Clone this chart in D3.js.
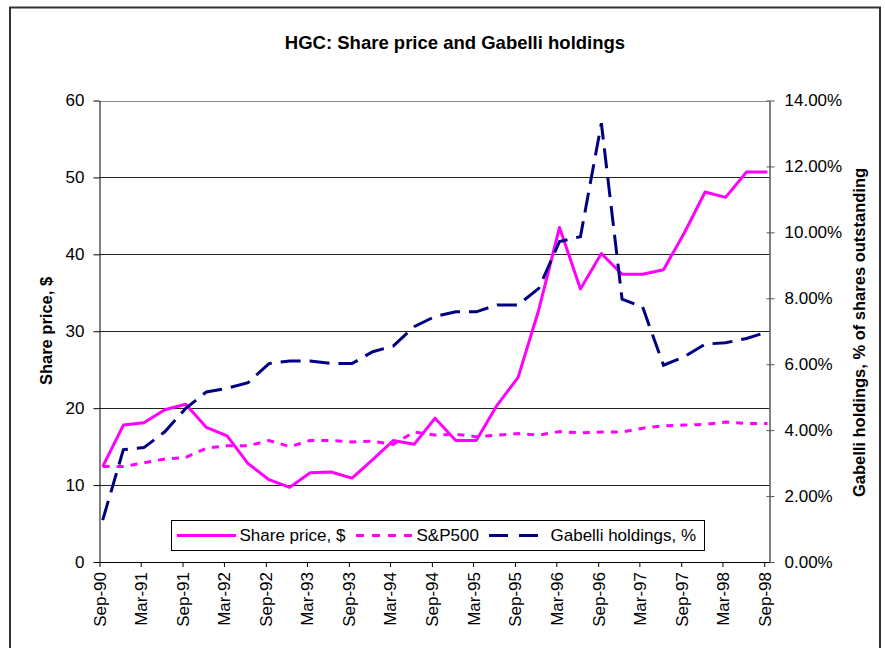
<!DOCTYPE html>
<html>
<head>
<meta charset="utf-8">
<script src="https://cdn.jsdelivr.net/npm/d3@7/dist/d3.min.js"></script>
<style>
  body { margin: 0; background: #fff; }
  text { font-family: "Liberation Sans", Arial, sans-serif; }
</style>
</head>
<body>
<script>
// ---- Data ----
const quarters = ["Sep-90","Dec-90","Mar-91","Jun-91","Sep-91","Dec-91","Mar-92","Jun-92","Sep-92","Dec-92",
  "Mar-93","Jun-93","Sep-93","Dec-93","Mar-94","Jun-94","Sep-94","Dec-94","Mar-95","Jun-95",
  "Sep-95","Dec-95","Mar-96","Jun-96","Sep-96","Dec-96","Mar-97","Jun-97","Sep-97","Dec-97",
  "Mar-98","Jun-98","Sep-98"];
const sharePrice = [12.4,17.8,18.1,19.8,20.5,17.5,16.4,12.8,10.7,9.7,
  11.6,11.7,10.9,13.3,15.8,15.3,18.7,15.8,15.8,20.4,
  24.0,32.8,43.5,35.5,40.1,37.4,37.4,38.0,42.8,48.1,
  47.4,50.7,50.7];
const sp500 = [12.4,12.4,12.9,13.4,13.6,14.8,15.1,15.1,15.8,15.0,
  15.8,15.8,15.6,15.7,15.3,16.9,16.5,16.6,16.3,16.5,
  16.7,16.5,16.95,16.8,16.9,16.9,17.4,17.7,17.8,17.9,
  18.2,18.0,18.0];
const gabelli = [0.0127,0.0341,0.0347,0.0395,0.0466,0.0516,0.0527,0.0544,0.0602,0.0610,
  0.0610,0.0602,0.0602,0.0638,0.0655,0.0714,0.0745,0.0759,0.0759,0.0780,
  0.0780,0.0830,0.0972,0.0987,0.1331,0.0797,0.0774,0.0597,0.0623,0.0661,
  0.0665,0.0678,0.0698];
const xTickLabels = ["Sep-90","Mar-91","Sep-91","Mar-92","Sep-92","Mar-93","Sep-93","Mar-94","Sep-94",
  "Mar-95","Sep-95","Mar-96","Sep-96","Mar-97","Sep-97","Mar-98","Sep-98"];
const leftTicks = [0,10,20,30,40,50,60];
const rightTicks = [0,0.02,0.04,0.06,0.08,0.10,0.12,0.14];
const seriesNames = ["Share price, $","S&P500","Gabelli holdings, %"];

// ---- Setup ----
const W = 885, H = 648;
const parse = d3.timeParse("%b-%y");
const pointDate = s => d3.timeDay.offset(parse(s), 14);
const plot = {left: 99.5, right: 769.5, top: 100.5, bottom: 562};

const x = d3.scaleTime()
  .domain([parse("Sep-90"), d3.timeDay.offset(parse("Sep-98"), 23)])
  .range([plot.left, plot.right]);
const yL = d3.scaleLinear().domain([0,60]).range([plot.bottom, plot.top]);
const yR = d3.scaleLinear().domain([0,0.14]).range([plot.bottom, plot.top]);

const svg = d3.select("body").append("svg").attr("width", W).attr("height", H);
svg.append("rect").attr("width", W).attr("height", H).attr("fill", "#fff");
svg.append("rect").attr("x", 10).attr("y", 7.5).attr("width", 870).attr("height", 700)
  .attr("fill", "none").attr("stroke", "#333").attr("stroke-width", 2);

// Title
svg.append("text").attr("x", 455).attr("y", 48.5).attr("text-anchor", "middle")
  .style("font-size", "18.5px").style("font-weight", "bold").text("HGC: Share price and Gabelli holdings");

// Gridlines
svg.append("g").selectAll("line").data(leftTicks.filter(d => d > 0)).join("line")
  .attr("x1", plot.left).attr("x2", plot.right)
  .attr("y1", d => Math.round(yL(d)) + 0.5).attr("y2", d => Math.round(yL(d)) + 0.5)
  .attr("stroke", d => d === 60 ? "#888" : "#222").attr("stroke-width", 1);

// Left axis
const gL = svg.append("g").attr("transform", `translate(${plot.left},0)`)
  .call(d3.axisLeft(yL).tickValues(leftTicks).tickSize(6).tickSizeOuter(0).tickPadding(9));
gL.select(".domain").attr("stroke", "#000");
gL.selectAll("text").style("font-size", "17px").attr("fill", "#000");

// Right axis
const gR = svg.append("g").attr("transform", `translate(${plot.right},0)`)
  .call(d3.axisRight(yR).tickValues(rightTicks).tickFormat(d3.format(".2%")).tickSize(5).tickSizeOuter(0).tickPadding(10));
gR.select(".domain").attr("stroke", "#555").attr("stroke-width", 1.5);
gR.selectAll(".tick line").attr("stroke", "#555").attr("x1", -3);
gR.selectAll("text").style("font-size", "17px").attr("fill", "#000");

// Bottom axis
const gB = svg.append("g").attr("transform", `translate(0,${plot.bottom})`)
  .call(d3.axisBottom(x).tickValues(xTickLabels.map(parse)).tickFormat(d3.timeFormat("%b-%y")).tickSize(5).tickSizeOuter(0));
gB.select(".domain").attr("stroke", "#000");
gB.selectAll("text").style("font-size", "17px").attr("fill", "#000")
  .attr("text-anchor", "end").attr("transform", "rotate(-90)")
  .attr("x", -10).attr("y", 0).attr("dy", "0.35em");

// Axis titles
svg.append("text").attr("transform", "translate(51.5,331) rotate(-90)").attr("text-anchor", "middle")
  .style("font-size", "16.5px").style("font-weight", "bold").text("Share price, $");
svg.append("text").attr("transform", "translate(865,332.5) rotate(-90)").attr("text-anchor", "middle")
  .style("font-size", "16.5px").style("font-weight", "bold").text("Gabelli holdings, % of shares outstanding");

// Lines
const lineL = d3.line().x((d, i) => x(pointDate(quarters[i]))).y(d => yL(d));
const lineR = d3.line().x((d, i) => x(pointDate(quarters[i]))).y(d => yR(d));
const styles = [
  {color: "#FF00FF", dash: null},
  {color: "#FF00FF", dash: "7,7"},
  {color: "#000080", dash: "20,9"}
];
svg.append("path").datum(sharePrice).attr("d", lineL).attr("fill", "none")
  .attr("stroke", styles[0].color).attr("stroke-width", 3).attr("stroke-linejoin", "round");
svg.append("path").datum(sp500).attr("d", lineL).attr("fill", "none")
  .attr("stroke", styles[1].color).attr("stroke-width", 3).attr("stroke-dasharray", styles[1].dash);
svg.append("path").datum(gabelli).attr("d", lineR).attr("fill", "none")
  .attr("stroke", styles[2].color).attr("stroke-width", 3).attr("stroke-dasharray", styles[2].dash);

// Legend
const lg = svg.append("g");
lg.append("rect").attr("x", 171.5).attr("y", 520.5).attr("width", 533).attr("height", 30)
  .attr("fill", "#fff").attr("stroke", "#000").attr("stroke-width", 1);
const legendItems = [
  {x1: 177, x2: 236, tx: 239.5},
  {x1: 356, x2: 412, tx: 416.5},
  {x1: 489, x2: 540, tx: 550.5}
];
legendItems.forEach((it, i) => {
  lg.append("line").attr("x1", it.x1).attr("x2", it.x2).attr("y1", 535.5).attr("y2", 535.5)
    .attr("stroke", styles[i].color).attr("stroke-width", 3)
    .attr("stroke-dasharray", i === 1 ? "8,8" : (i === 2 ? "19,11" : null));
  lg.append("text").attr("x", it.tx).attr("y", 535.5).attr("dy", "0.35em")
    .style("font-size", "17px").text(seriesNames[i]);
});
</script>
</body>
</html>
